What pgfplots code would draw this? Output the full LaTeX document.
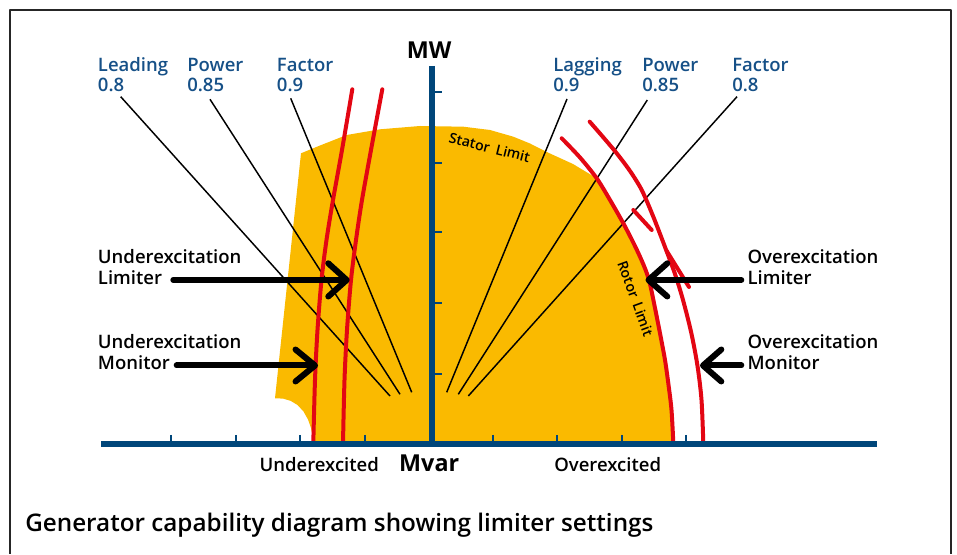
\documentclass[border=0pt]{standalone}
\usepackage{pgfplots}
\pgfplotsset{compat=1.18}
\usepackage{fontspec}
\setmainfont{Open Sans}
\newfontfamily\semib{Open Sans Semibold}
\definecolor{orng}{RGB}{250,186,0}
\definecolor{redl}{RGB}{227,6,19}
\definecolor{axblue}{RGB}{0,70,122}
\definecolor{lblue}{RGB}{22,80,135}
\tikzset{
  lab/.style={anchor=base west, inner sep=0pt, font=\semib\fontsize{13.9}{16}\selectfont},
  blab/.style={lab, text=lblue},
}
\begin{document}
\begin{tikzpicture}
\begin{axis}[
  scale only axis, width=717.75pt, height=415.5pt,
  xmin=0, xmax=957, ymin=0, ymax=554, y dir=reverse,
  axis lines=none, clip=false, unbounded coords=jump,
  every axis plot/.append style={line join=round},
]
% invisible extent
\addplot[draw=none] coordinates {(0,0)(957,554)};
% frame
\addplot[black!85, line width=1.5pt] coordinates {(10,554)(10,10)(951,10)(951,554)};
% capability area
\addplot[fill=orng, draw=none] coordinates {
 (301,153.3) (320,145.5) (346.7,135) (380,129.3) (420,126) (463.3,126.7) (490,130)
 (513.3,136.7) (530,143.5) (546.7,152) (573,164) (596.7,178.3) (610,200) (623.3,223.3)
 (633,242) (640,256.7) (646,271) (650,284) (655,308) (660,333.3) (665,360) (668.3,383.3)
 (671.5,410) (673,444) (313,444) (312.5,436) (311,428) (308,419.5) (303.5,411.5)
 (297.5,405) (290.5,400.8) (283,398.6) (275,398.3)
} -- cycle;
% power factor lines
\addplot[black, line width=1.1pt] coordinates {(120.7,96.7)(390,396)};
\addplot[black, line width=1.1pt] coordinates {(210,99.3)(400,394.3)};
\addplot[black, line width=1.1pt] coordinates {(290.7,98.3)(411.7,392.3)};
\addplot[black, line width=1.1pt] coordinates {(567,99)(446.7,392.3)};
\addplot[black, line width=1.1pt] coordinates {(647.3,100)(458.3,394.3)};
\addplot[black, line width=1.1pt] coordinates {(737,96.7)(468.3,396)};
% red limit curves
\addplot[redl, line width=3pt, line cap=round, smooth] coordinates {
 (352.3,89.3) (342,150) (333,200) (326.5,240) (321.5,280) (317.5,330) (315,380) (313.3,443)};
\addplot[redl, line width=3pt, line cap=round, smooth] coordinates {
 (382.3,89.3) (371,150) (362,200) (356,240) (351,280) (347,330) (344.5,380) (343,443)};
\addplot[redl, line width=3pt, line cap=round, smooth] coordinates {
 (561.7,138.3) (580,157.5) (596.7,178.3) (610,200) (623.3,223.3) (633,242) (640,256.7)
 (646,271) (650,284) (655,308) (660,333.3) (665,360) (668.3,383.3) (671.5,410) (673.3,443)};
\addplot[redl, line width=3pt, line cap=round, smooth] coordinates {
 (589.7,121.7) (603,137) (616.7,153.3) (630,171) (641.7,190) (653,216) (665,247) (675,274)
 (683,300) (691.3,333) (697.5,366) (701.5,400) (703.3,443)};
\addplot[redl, line width=3pt, line cap=round] coordinates {(633.3,210)(651.7,230)};
\addplot[redl, line width=3pt, line cap=round] coordinates {(666.7,251)(689,287)};
% axes
\addplot[axblue, line width=4.2pt] coordinates {(101,444)(877.3,444)};
\addplot[axblue, line width=4.5pt] coordinates {(431.7,66)(431.7,444)};
\addplot[axblue, line width=1.5pt] coordinates {
 (170.7,435)(170.7,444) (nan,nan) (235.7,435)(235.7,444) (nan,nan)
 (300.3,435)(300.3,444) (nan,nan) (365,435)(365,444) (nan,nan)
 (492.7,435)(492.7,444) (nan,nan) (557.3,435)(557.3,444) (nan,nan)
 (621.7,435)(621.7,444) (nan,nan) (686,435)(686,444)};
\addplot[axblue, line width=1.5pt] coordinates {
 (431.7,91.7)(441.7,91.7) (nan,nan) (431.7,163.3)(441.7,163.3) (nan,nan)
 (431.7,231.7)(441.7,231.7) (nan,nan) (431.7,303.3)(441.7,303.3) (nan,nan)
 (431.7,374.3)(441.7,374.3)};
% arrows
\addplot[black, line width=4.5pt, line cap=round] coordinates {(173.3,280)(345,280)};
\addplot[black, line width=4.5pt, line cap=round] coordinates {(328.3,263.3)(346.7,280)(328.3,296.5)};
\addplot[black, line width=4.5pt, line cap=round] coordinates {(176.7,365.5)(313,365.5)};
\addplot[black, line width=4.5pt, line cap=round] coordinates {(295.5,349.5)(315,365.5)(295.5,381.5)};
\addplot[black, line width=4.5pt, line cap=round] coordinates {(741.3,280)(650,280)};
\addplot[black, line width=4.5pt, line cap=round] coordinates {(667.3,263.3)(648.5,280)(667.3,296.5)};
\addplot[black, line width=4.5pt, line cap=round] coordinates {(741.3,365.5)(705,365.5)};
\addplot[black, line width=4.5pt, line cap=round] coordinates {(721.3,349.5)(703,365.5)(721.3,381.5)};
% texts
\node[blab] at (axis cs:97.7,71.5) {Leading};
\node[blab] at (axis cs:97.7,92) {0.8};
\node[blab] at (axis cs:187,71.5) {Power};
\node[blab] at (axis cs:187,92) {0.85};
\node[blab] at (axis cs:276.7,71.5) {Factor};
\node[blab] at (axis cs:276.7,92) {0.9};
\node[blab] at (axis cs:553,71.5) {Lagging};
\node[blab] at (axis cs:553,92) {0.9};
\node[blab] at (axis cs:642,71.5) {Power};
\node[blab] at (axis cs:642,92) {0.85};
\node[blab] at (axis cs:732,71.5) {Factor};
\node[blab] at (axis cs:732,92) {0.8};
\node[lab] at (axis cs:97.7,263.5) {Underexcitation};
\node[lab] at (axis cs:97.7,285) {Limiter};
\node[lab] at (axis cs:97.7,348.5) {Underexcitation};
\node[lab] at (axis cs:97.7,370) {Monitor};
\node[lab] at (axis cs:747.3,263.5) {Overexcitation};
\node[lab] at (axis cs:747.3,285) {Limiter};
\node[lab] at (axis cs:747.3,348.5) {Overexcitation};
\node[lab] at (axis cs:747.3,370) {Monitor};
\node[lab] at (axis cs:259.3,471.7) {Underexcited};
\node[lab] at (axis cs:554,471.7) {Overexcited};
\node[anchor=base, inner sep=0pt, font=\bfseries\fontsize{17.5}{20}\selectfont] at (axis cs:429.2,58.3) {MW};
\node[anchor=base, inner sep=0pt, font=\bfseries\fontsize{17.5}{20}\selectfont] at (axis cs:429.2,471.7) {Mvar};
\node[anchor=base west, inner sep=0pt, font=\semib\fontsize{18.2}{21}\selectfont] at (axis cs:25,531.7) {Generator capability diagram showing limiter settings};
\node[rotate=-14, inner sep=0pt, font=\semib\fontsize{10.6}{12}\selectfont] at (axis cs:489.5,147.5) {Stator\hspace{0.45em}Limit};
\node[rotate=-70, inner sep=0pt, font=\semib\fontsize{10.6}{12}\selectfont] at (axis cs:635.5,298.5) {Rotor\hspace{0.45em}Limit};
\end{axis}
\end{tikzpicture}
\end{document}
